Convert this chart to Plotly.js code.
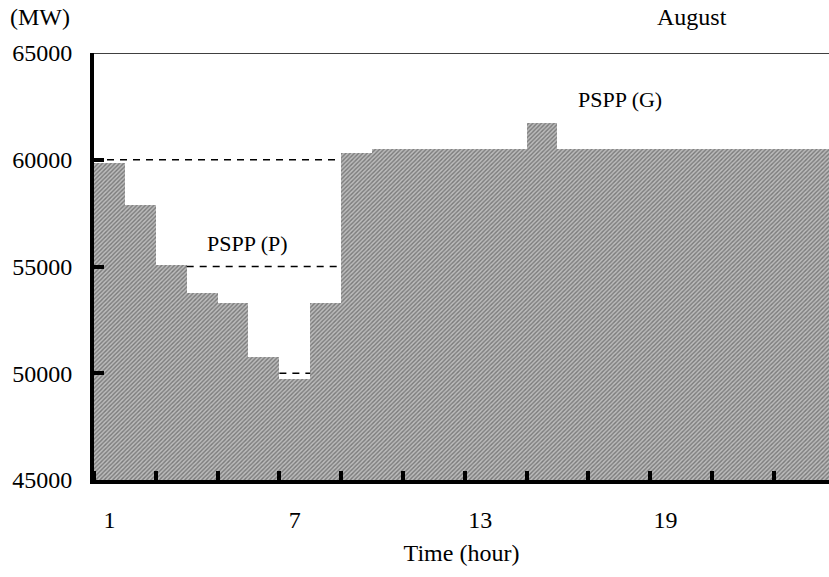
<!DOCTYPE html>
<html>
<head>
<meta charset="utf-8">
<script src="https://cdn.plot.ly/plotly-3.0.1.min.js"></script>
<style>html,body{margin:0;padding:0;background:#fff;}#chart{width:829px;height:577px;}</style>
</head>
<body>
<div id="chart"></div>
<script>
// Hourly load (MW), August
const hours = [1,2,3,4,5,6,7,8,9,10,11,12,13,14,15,16,17,18,19,20,21,22,23,24];
const load  = [59850,57900,55050,53750,53300,50750,49750,53300,60300,60500,60500,60500,60500,60500,61700,60500,60500,60500,60500,60500,60500,60500,60500,60500];
// dashed reference levels for pumping (PSPP (P))
const dashLevel = [60000, 55000, 50000];
const dashFrom  = [0.5, 3.5, 6.5];
const dashTo    = [8.5, 8.5, 7.5];
const xTickVals = [1, 7, 13, 19];
const xTickText = ['1', '7', '13', '19'];
const yTickVals = [45000, 50000, 55000, 60000, 65000];

const F = 'Liberation Serif, Times New Roman, serif';

const traces = [{
  type: 'bar', x: hours, y: load, width: 1,
  marker: {color: '#a0a0a0', line: {width: 0},
           pattern: {shape: '/', fgcolor: '#7a7a7a', bgcolor: '#bcbcbc', size: 3, solidity: 0.45}},
  hoverinfo: 'skip', showlegend: false
}];
dashLevel.forEach((lv, i) => {
  traces.push({type: 'scatter', mode: 'lines', x: [dashFrom[i], dashTo[i]], y: [lv, lv],
    line: {color: '#000', width: 1.5, dash: '7px,6px'}, showlegend: false, hoverinfo: 'skip'});
});

const layout = {
  width: 829, height: 577,
  margin: {l: 94, r: 0, t: 53, b: 97},
  paper_bgcolor: '#fff', plot_bgcolor: '#fff',
  font: {family: F, size: 24, color: '#000'},
  bargap: 0,
  showlegend: false,
  xaxis: {
    range: [0.5, 24.29], showgrid: false, zeroline: false,
    showline: true, linecolor: '#000', linewidth: 4,
    tickmode: 'array', tickvals: xTickVals, ticktext: xTickText, ticks: '',
    ticklabelstandoff: 15,
    tickfont: {family: F, size: 24, color: '#000'},
    minor: {tick0: 0.5, dtick: 2, ticks: 'inside', ticklen: 9, tickwidth: 4, tickcolor: '#000', showgrid: false},
    title: {text: 'Time (hour)', font: {family: F, size: 24, color: '#000'}, standoff: 13}
  },
  yaxis: {
    range: [45000, 65000], showgrid: false, zeroline: false,
    showline: true, linecolor: '#000', linewidth: 4,
    tickmode: 'array', tickvals: yTickVals, ticks: 'inside', ticklen: 10, tickwidth: 4, tickcolor: '#000',
    ticklabelstandoff: 13, tickformat: 'd',
    tickfont: {family: F, size: 24, color: '#000'}
  },
  shapes: [{type: 'line', xref: 'paper', yref: 'y', x0: 0, x1: 1, y0: 65000, y1: 65000,
            line: {color: '#000', width: 1.5}}],
  annotations: [
    {text: 'PSPP (P)', x: 5.48, y: 56100, xref: 'x', yref: 'y', showarrow: false, font: {family: F, size: 22, color: '#000'}},
    {text: 'PSPP (G)', x: 17.52, y: 62800, xref: 'x', yref: 'y', showarrow: false, font: {family: F, size: 22, color: '#000'}},
    {text: '(MW)', x: -0.0735, y: 1.084, xref: 'paper', yref: 'paper', xanchor: 'center', yanchor: 'middle', showarrow: false, font: {family: F, size: 24, color: '#000'}},
    {text: 'August', x: 0.8136, y: 1.084, xref: 'paper', yref: 'paper', xanchor: 'center', yanchor: 'middle', showarrow: false, font: {family: F, size: 24, color: '#000'}}
  ]
};
Plotly.newPlot('chart', traces, layout, {displayModeBar: false, staticPlot: true});
</script>
</body>
</html>
